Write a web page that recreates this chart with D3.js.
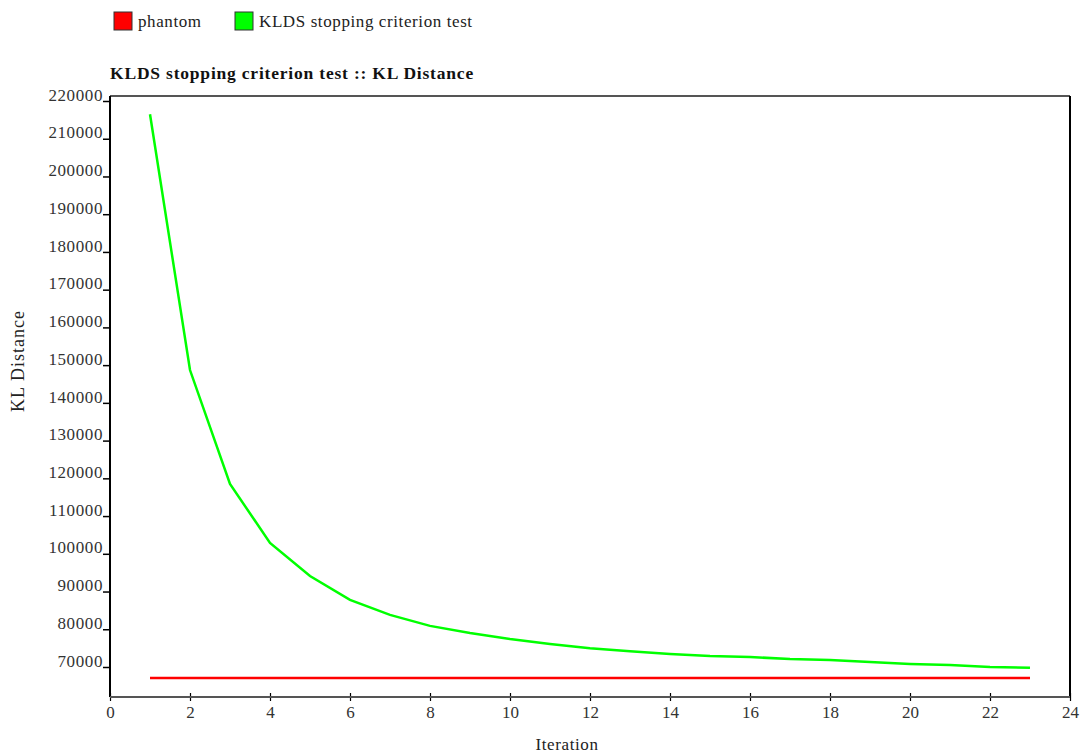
<!DOCTYPE html>
<html><head><meta charset="utf-8">
<script src="https://cdn.jsdelivr.net/npm/d3@7"></script>
<style>body{margin:0;background:#fff;} text{font-family:"Liberation Serif","Times New Roman",serif;}</style>
</head><body><svg id="c" width="1086" height="753"></svg>
<script>
const iterations = [1,2,3,4,5,6,7,8,9,10,11,12,13,14,15,16,17,18,19,20,21,22,23];
const kldsValues = [216500,148700,118500,102900,94100,87800,83800,80900,79000,77400,76100,75000,74200,73450,72900,72650,72100,71850,71300,70800,70500,70000,69800];
const phantomValues = [67100,67100,67100,67100,67100,67100,67100,67100,67100,67100,67100,67100,67100,67100,67100,67100,67100,67100,67100,67100,67100,67100,67100];
const seriesNames = ["phantom","KLDS stopping criterion test"];
const seriesColors = ["#ff0000","#00ff00"];
const xTicks = [0,2,4,6,8,10,12,14,16,18,20,22,24];
const yTicks = [70000,80000,90000,100000,110000,120000,130000,140000,150000,160000,170000,180000,190000,200000,210000,220000];

const svg = d3.select("#c");
const L=110,R=1070,T=96,B=697;
const x = d3.scaleLinear().domain([0,24]).range([L,R]);
const y = d3.scaleLinear().domain([220000,70000]).range([101,667]);
const FS=17, LS="0.6px";

// legend
const lg = svg.append("g");
const legX=[114,235];
seriesNames.forEach((n,i)=>{
  lg.append("rect").attr("x",legX[i]).attr("y",12).attr("width",18).attr("height",18)
    .attr("fill",seriesColors[i]).attr("stroke","#333").attr("stroke-width",1);
  lg.append("text").attr("x",legX[i]+24).attr("y",27).attr("font-size",FS).attr("letter-spacing",LS).attr("fill","#222").text(n);
});
// title
svg.append("text").attr("x",110).attr("y",79).attr("font-size",17.5).attr("letter-spacing","0.8px").attr("font-weight","bold").attr("fill","#111")
  .text("KLDS stopping criterion test :: KL Distance");

// frame
svg.append("line").attr("x1",L).attr("x2",R).attr("y1",T).attr("y2",T).attr("stroke","#555").attr("stroke-width",2);
svg.append("line").attr("x1",R).attr("x2",R).attr("y1",T).attr("y2",B).attr("stroke","#000").attr("stroke-width",2);

// y axis
const ya = svg.append("g").attr("transform",`translate(${L},0)`)
  .call(d3.axisLeft(y).tickValues(yTicks).tickSize(7).tickFormat(d3.format("d")));
ya.select(".domain").remove();
ya.selectAll(".tick line").attr("stroke","#000").attr("stroke-width",1.5);
ya.selectAll(".tick text").attr("font-size",FS).attr("letter-spacing",LS).attr("fill","#333").attr("dy","-0.05em").attr("x",-7)
  .style("font-family",'"Liberation Serif",serif');
svg.append("line").attr("x1",L).attr("x2",L).attr("y1",T).attr("y2",B).attr("stroke","#000").attr("stroke-width",2);

// x axis
const xa = svg.append("g").attr("transform",`translate(0,${B})`)
  .call(d3.axisBottom(x).tickValues(xTicks).tickSize(4).tickFormat(d3.format("d")));
xa.select(".domain").remove();
xa.selectAll(".tick line").attr("stroke","#000").attr("stroke-width",1.2).attr("y1",-4).attr("y2",4);
xa.selectAll(".tick text").attr("font-size",FS).attr("fill","#333").attr("y",9)
  .style("font-family",'"Liberation Serif",serif');
svg.append("line").attr("x1",L).attr("x2",R).attr("y1",B).attr("y2",B).attr("stroke","#555").attr("stroke-width",2);

// axis titles
svg.append("text").attr("x",567).attr("y",750).attr("text-anchor","middle").attr("font-size",FS).attr("letter-spacing",LS).attr("fill","#222").text("Iteration");
svg.append("text").attr("transform","translate(24,361) rotate(-90)").attr("text-anchor","middle").attr("font-size",18).attr("letter-spacing","1px").attr("fill","#222").text("KL Distance");

// lines
const line = d3.line().x((d,i)=>x(iterations[i])).y(d=>y(d));
svg.append("path").datum(phantomValues).attr("d",line).attr("fill","none").attr("stroke",seriesColors[0]).attr("stroke-width",2.5);
svg.append("path").datum(kldsValues).attr("d",line).attr("fill","none").attr("stroke",seriesColors[1]).attr("stroke-width",2.5);
</script></body></html>
